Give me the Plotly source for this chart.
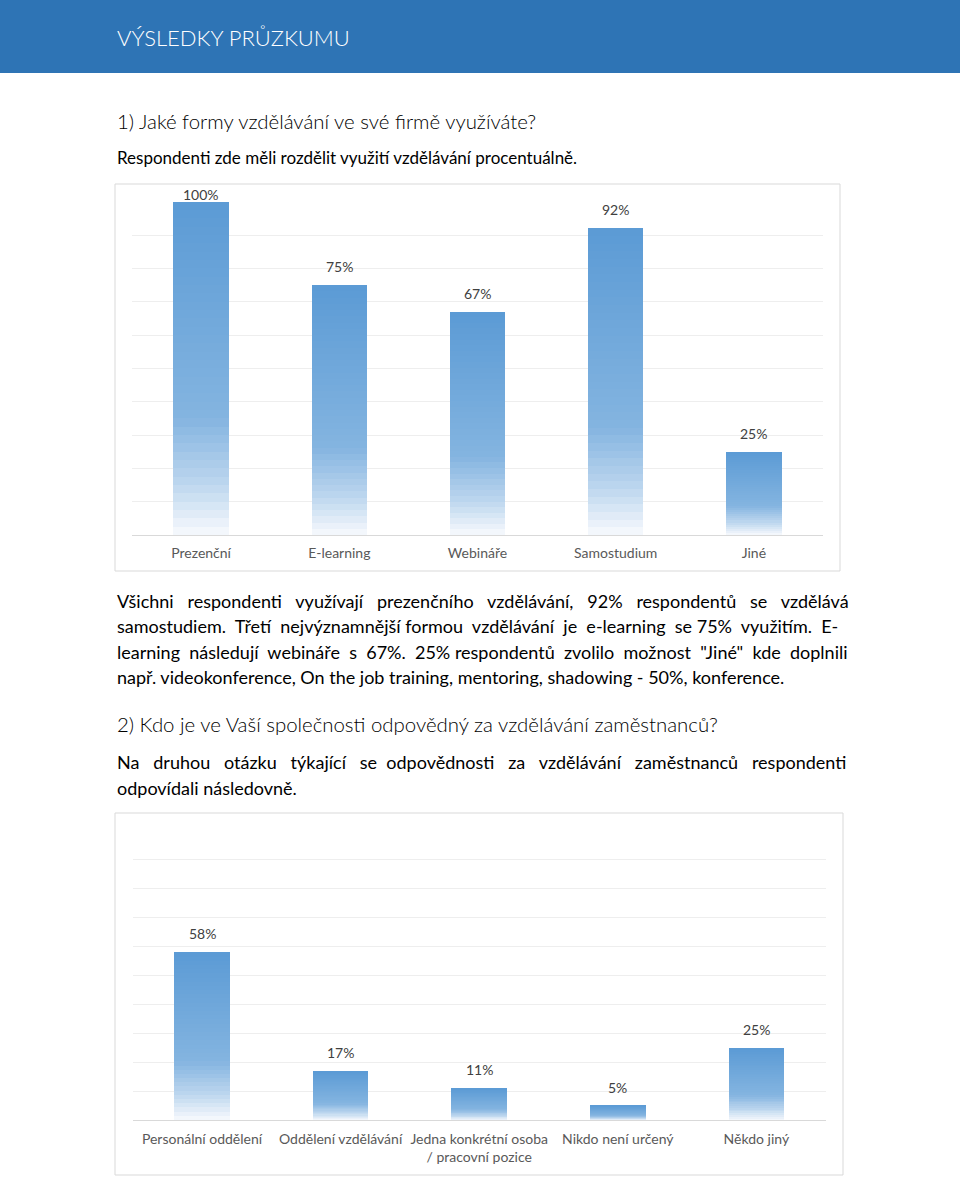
import plotly.graph_objects as go

W, H = 960, 1177

# ---- data ----
q1_categories = ["Prezenční", "E-learning", "Webináře", "Samostudium", "Jiné"]
q1_values = [1.00, 0.75, 0.67, 0.92, 0.25]
q1_labels = ["100%", "75%", "67%", "92%", "25%"]

q2_categories = ["Personální oddělení", "Oddělení vzdělávání",
                 "Jedna konkrétní osoba<br>/ pracovní pozice",
                 "Nikdo není určený", "Někdo jiný"]
q2_values = [0.58, 0.17, 0.11, 0.05, 0.25]
q2_labels = ["58%", "17%", "11%", "5%", "25%"]

header_title = "VÝSLEDKY PRŮZKUMU"
q1_heading = "1) Jaké formy vzdělávání ve své firmě využíváte?"
q1_sub = "Respondenti zde měli rozdělit využití vzdělávání procentuálně."
para1 = [
    "Všichni respondenti využívají prezenčního vzdělávání, 92% respondentů se vzdělává",
    "samostudiem. Třetí nejvýznamnější formou vzdělávání je e-learning se 75% využitím. E-",
    "learning následují webináře s 67%. 25% respondentů zvolilo možnost \"Jiné\" kde doplnili",
    "např. videokonference, On the job training, mentoring, shadowing - 50%, konference.",
]
q2_heading = "2) Kdo je ve Vaší společnosti odpovědný za vzdělávání zaměstnanců?"
para2 = [
    "Na druhou otázku týkající se odpovědnosti za vzdělávání zaměstnanců respondenti",
    "odpovídali následovně.",
]

FONT = "Lato"
FONT_LIGHT = "Lato Light, Lato"
BODY = 18
SPACE_W = 0.193 * BODY          # approx. advance of a space in Lato
# approx. natural pixel widths of the justified lines (None = not justified)
para1_natural = [675, 703, 697, None]
para2_natural = [672, None]
TEXT_LEFT, TEXT_RIGHT = 115, 846

N_SLICES = 40
STOPS = [(0.0, (91, 155, 213)), (0.65, (132, 180, 224)), (0.85, (190, 215, 239)), (1.0, (248, 250, 253))]


def grad(t):
    for (t0, c0), (t1, c1) in zip(STOPS[:-1], STOPS[1:]):
        if t <= t1:
            f = (t - t0) / (t1 - t0)
            return "rgb(%d,%d,%d)" % tuple(round(a + (b - a) * f) for a, b in zip(c0, c1))
    return "rgb(%d,%d,%d)" % STOPS[-1][1]


def px_x(p):
    return p / W


def px_y(p):
    return 1 - p / H


def justify(line, natural):
    if natural is None:
        return line
    words = line.split(" ")
    gaps = len(words) - 1
    extra = max(0, round((TEXT_RIGHT - TEXT_LEFT - natural) / SPACE_W))
    out = words[0]
    acc = 0
    for i, w in enumerate(words[1:], start=1):
        target = round(extra * i / gaps)
        n = target - acc
        acc = target
        out += " " + "\u00a0" * n + w
    return out


fig = go.Figure()


def add_gradient_bars(cats, vals, xa, ya):
    for k in range(N_SLICES):
        t = 1 - (k + 0.5) / N_SLICES  # 0 at top, 1 at bottom
        fig.add_trace(go.Bar(
            x=cats, y=[v / N_SLICES for v in vals],
            marker=dict(color=grad(t), line=dict(width=0)),
            xaxis=xa, yaxis=ya, hoverinfo="skip", showlegend=False,
        ))


add_gradient_bars(q1_categories, q1_values, "x", "y")
add_gradient_bars(q2_categories, q2_values, "x2", "y2")

c1 = dict(x0=132, x1=823, y0=201.7, y1=535)
c2 = dict(x0=132.7, x1=825.7, y0=831, y1=1120)

axis_common_y = dict(range=[0, 1.0001], dtick=0.1, showgrid=True, gridcolor="#eeeeee",
                     gridwidth=1, showticklabels=False, zeroline=True,
                     zerolinecolor="#d9d9d9", zerolinewidth=1, fixedrange=True)
axis_common_x = dict(showgrid=False, ticks="", showline=False,
                     tickfont=dict(family=FONT, size=14, color="#595959"))

fig.update_layout(
    width=W, height=H, margin=dict(l=0, r=0, t=0, b=0),
    paper_bgcolor="white", plot_bgcolor="white",
    barmode="stack", bargap=0.6, showlegend=False,
    font=dict(family=FONT),
    xaxis=dict(domain=[px_x(c1["x0"]), px_x(c1["x1"])], anchor="y",
               ticklabelstandoff=8, **axis_common_x),
    yaxis=dict(domain=[px_y(c1["y1"]), px_y(c1["y0"])], anchor="x", **axis_common_y),
    xaxis2=dict(domain=[px_x(c2["x0"]), px_x(c2["x1"])], anchor="y2",
                ticklabelstandoff=9, **axis_common_x),
    yaxis2=dict(domain=[px_y(c2["y1"]), px_y(c2["y0"])], anchor="x2", **axis_common_y),
)

annotations = []


def value_labels(cats, vals, labels, xr, yr, c):
    ph = c["y1"] - c["y0"]
    for cat, v, lab in zip(cats, vals, labels):
        top_px = c["y1"] - v * ph
        shift = 8
        if top_px - shift - 17 < c["y0"] - 14:
            shift = top_px - (c["y0"] - 14) - 17
        annotations.append(dict(x=cat, y=v, xref=xr, yref=yr, text=lab, showarrow=False,
                                yanchor="bottom", yshift=shift,
                                font=dict(family=FONT, size=14, color="#404040")))


value_labels(q1_categories, q1_values, q1_labels, "x", "y", c1)
value_labels(q2_categories, q2_values, q2_labels, "x2", "y2", c2)


def text(t, y, size, color="black", x=TEXT_LEFT, family=FONT):
    f = dict(family=family, size=size, color=color)
    annotations.append(dict(x=px_x(x), y=px_y(y), xref="paper", yref="paper", text=t,
                            showarrow=False, xanchor="left", yanchor="middle", font=f))


text(header_title, 37, 22, color="white", family=FONT_LIGHT)
text(q1_heading, 121, 20.4, family=FONT_LIGHT)
text(q1_sub, 157, 17)
for i, (line, nat) in enumerate(zip(para1, para1_natural)):
    text(justify(line, nat), 601 + i * 25.3, BODY)
text(q2_heading, 724, 20.4, family=FONT_LIGHT)
for i, (line, nat) in enumerate(zip(para2, para2_natural)):
    text(justify(line, nat), 762 + i * 26, BODY)

fig.update_layout(annotations=annotations)

shapes = [
    dict(type="rect", xref="paper", yref="paper", x0=0, x1=1, y0=px_y(73), y1=1,
         fillcolor="#2e74b5", line=dict(width=0), layer="below"),
    dict(type="rect", xref="paper", yref="paper", x0=px_x(115), x1=px_x(840),
         y0=px_y(571), y1=px_y(184), line=dict(color="#d9d9d9", width=1), layer="below"),
    dict(type="rect", xref="paper", yref="paper", x0=px_x(115), x1=px_x(843),
         y0=px_y(1175), y1=px_y(813), line=dict(color="#d9d9d9", width=1), layer="below"),
]
fig.update_layout(shapes=shapes)

fig.write_html("out.html")
